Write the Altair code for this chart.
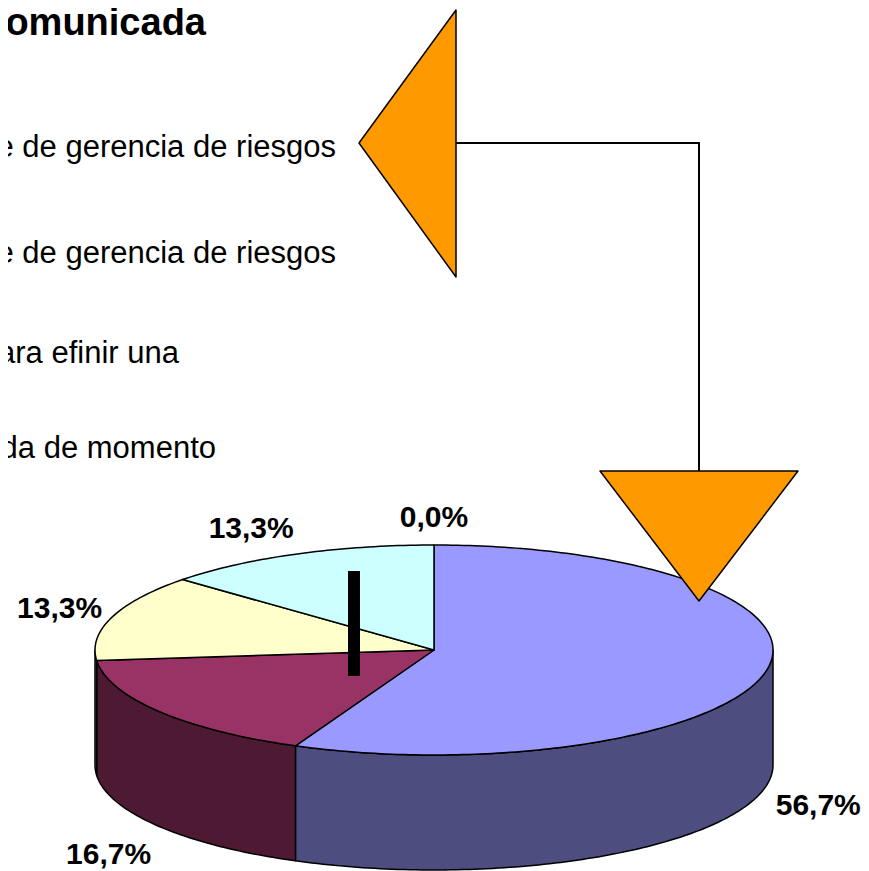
import math
import altair as alt
import pandas as pd

# ---------------- data ----------------
slice_labels = ["56,7%", "16,7%", "13,3%", "13,3%", "0,0%"]
slice_values = [56.7, 16.7, 13.3, 13.3, 0.0]
top_colors = ["#9999FF", "#993366", "#FFFFCC", "#CCFFFF", "#660066"]
side_colors = ["#4D4D80", "#4D1933", "#808066", "#668080", "#330033"]

title_text = "omunicada"
legend_lines = [
    "e de gerencia de riesgos",
    "e de gerencia de riesgos",
    "ara efinir una",
    "da de momento",
]

# ---------------- layout (page pixels) ----------------
W, H = 853, 863
CX, CY, RX, RY, DEPTH = 434, 650, 339, 105, 115
LAB_GAP, LAB_HALF_W, LAB_B, LAB_D = 13, 40, 132, 128
legend_right = [336, 336, 179, 216]
legend_base = [157, 263, 363, 458]
title_pos = (206, 35)
left_tri = [(359, 143), (456, 10), (456, 277)]
down_tri = [(600, 471), (798, 471), (699, 601)]
connector = [(456, 143), (699, 143), (699, 471)]
bar = (348, 360, 571, 676)
ORANGE = "#FF9900"


def pt(theta_deg, dy=0.0):
    t = math.radians(theta_deg)
    return CX + RX * math.sin(t), CY - RY * math.cos(t) + dy


def arc(a, b, dy=0.0):
    n = max(2, int(abs(b - a)) + 1)
    return [pt(a + (b - a) * k / (n - 1), dy) for k in range(n)]


total = sum(slice_values)
bounds = []
acc = 0.0
for v in slice_values:
    a = acc / total * 360.0
    acc += v
    bounds.append((a, acc / total * 360.0))

top_rows, wall_rows, label_rows = [], [], []
for k, (a, b) in enumerate(bounds):
    if b - a > 0:
        pts = [(CX, CY)] + arc(a, b)
        for i, (x, y) in enumerate(pts):
            top_rows.append({"poly": k, "i": i, "x": x, "y": y, "fill": top_colors[k]})
        lo, hi = max(a, 90.0), min(b, 270.0)
        if hi > lo:
            pts = arc(lo, hi) + arc(hi, lo, DEPTH)
            for i, (x, y) in enumerate(pts):
                wall_rows.append({"poly": k, "i": i, "x": x, "y": y, "fill": side_colors[k]})
    m = math.radians((a + b) / 2.0)
    s, c = math.sin(m), math.cos(m)
    lx = CX + (RX + LAB_GAP) * s
    if abs(s) > 0.2:
        lx += LAB_HALF_W * (1 if s > 0 else -1)
    ly = CY - LAB_B * c + (LAB_D if c < 0 else 0)
    label_rows.append({"x": lx, "y": ly, "text": slice_labels[k]})

shape_rows = []
for n, tri in enumerate([left_tri, down_tri]):
    for i, (x, y) in enumerate(tri):
        shape_rows.append({"poly": n, "i": i, "x": x, "y": y, "fill": ORANGE})

conn_df = pd.DataFrame([{"i": i, "x": x, "y": y} for i, (x, y) in enumerate(connector)])
bar_df = pd.DataFrame([{"x": bar[0], "x2": bar[1], "y": bar[2], "y2": bar[3]}])
legend_df = pd.DataFrame({"x": legend_right, "y": legend_base, "text": legend_lines})
title_df = pd.DataFrame([{"x": title_pos[0], "y": title_pos[1], "text": title_text}])

xs = alt.Scale(domain=[8, 8 + W], nice=False, zero=False)
ys = alt.Scale(domain=[8, 8 + H], nice=False, zero=False, reverse=True)
X = alt.X("x:Q", scale=xs, axis=None)
Y = alt.Y("y:Q", scale=ys, axis=None)


def polys(rows):
    return alt.Chart(pd.DataFrame(rows)).mark_line(
        interpolate="linear-closed", stroke="black", strokeWidth=1.5, strokeJoin="round"
    ).encode(
        x=X, y=Y,
        detail="poly:N",
        order="i:Q",
        fill=alt.Fill("fill:N", scale=None),
    )


walls = polys(wall_rows)
tops = polys(top_rows)
shapes = polys(shape_rows)

bar_layer = alt.Chart(bar_df).mark_rect(color="black").encode(
    x=X, x2="x2:Q", y=Y, y2="y2:Q"
)
conn_layer = alt.Chart(conn_df).mark_line(color="black", strokeWidth=2).encode(
    x=X, y=Y, order="i:Q"
)
labels_layer = alt.Chart(pd.DataFrame(label_rows)).mark_text(
    font="Liberation Sans", fontWeight="bold", fontSize=30,
    align="center", baseline="middle", color="black"
).encode(x=X, y=Y, text="text:N")
legend_layer = alt.Chart(legend_df).mark_text(
    font="Liberation Sans", fontSize=31, align="right", baseline="alphabetic", color="black"
).encode(x=X, y=Y, text="text:N")
title_layer = alt.Chart(title_df).mark_text(
    font="Liberation Sans", fontWeight="bold", fontSize=38, align="right",
    baseline="alphabetic", color="black"
).encode(x=X, y=Y, text="text:N")

chart = alt.layer(
    walls, tops, bar_layer, conn_layer, shapes, labels_layer, legend_layer, title_layer
).properties(
    width=W, height=H, padding=0, autosize=alt.AutoSizeParams(type="none")
).configure_view(strokeWidth=0)

chart.save("out.html", embed_options={"renderer": "svg", "actions": False})
